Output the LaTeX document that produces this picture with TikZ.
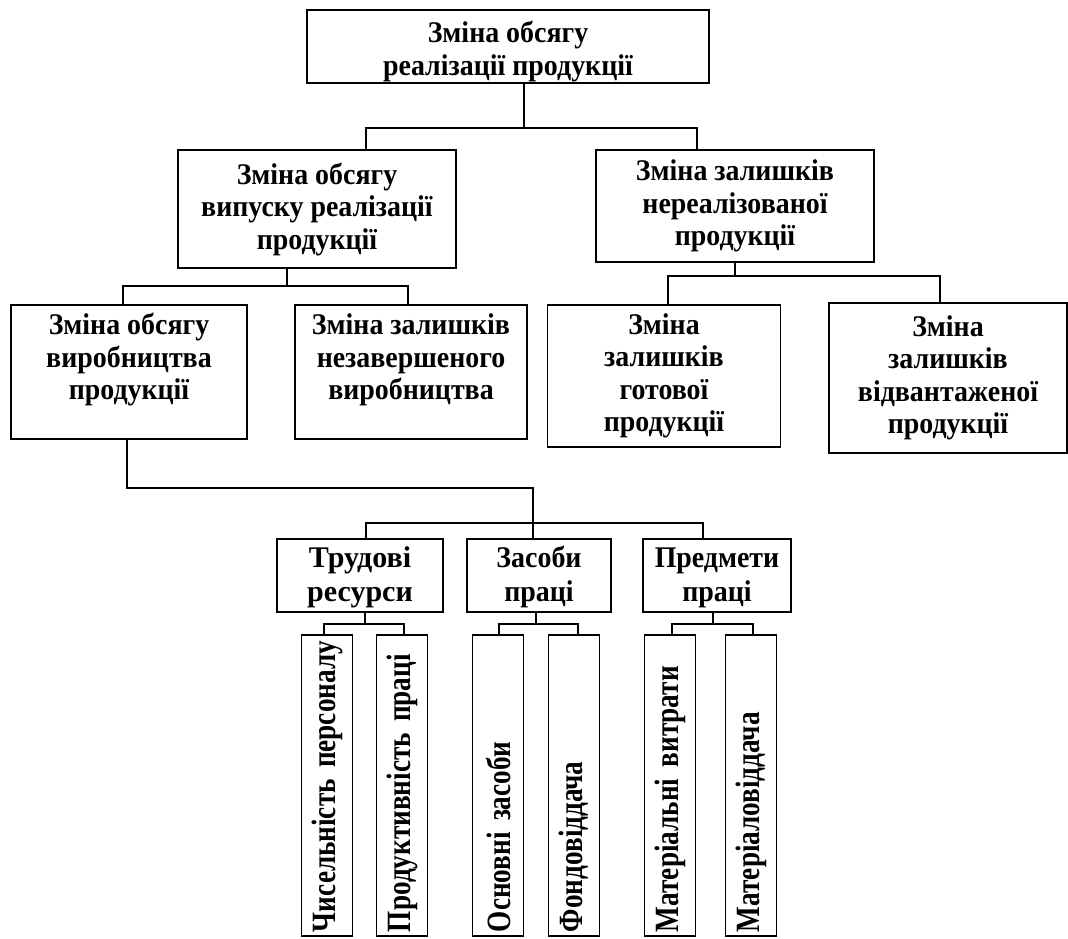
\documentclass[tikz,border=0pt]{standalone}
\usepackage{fontspec}
\setmainfont{Liberation Serif}
\newfontfamily\upserif[FakeStretch=0.93]{Liberation Serif}
\newfontfamily\narrowserif[FakeStretch=0.8]{Liberation Serif}
\newcommand{\toptext}[4]{\parbox[c][#1][t]{#2}{\vspace*{#3}\centering\strut #4}}
\begin{document}
\begin{tikzpicture}[x=1pt,y=-1pt,
  box/.style={draw, line width=1.9pt, inner sep=0pt, align=center, font=\upserif\fontsize{30}{32.5}\selectfont\bfseries},
  sbox/.style={draw, line width=1.9pt, inner sep=0pt, align=center, font=\upserif\fontsize{30}{34}\selectfont\bfseries},
  vt/.style={draw, line width=1.9pt, rotate=90, inner sep=0pt, font=\narrowserif\fontsize{34}{36}\selectfont\bfseries,
    minimum width=301pt, minimum height=51pt, text width=293pt, align=left},
  conn/.style={line width=1.6pt}]
\useasboundingbox (0,0) rectangle (1068,938);
% level 1
\node[box, minimum width=402pt, minimum height=73pt] (top) at (508,46.5)
  {\toptext{73pt}{396pt}{10pt}{Зміна обсягу\\реалізації продукції}};
% level 2
\node[box, minimum width=278pt, minimum height=118pt] (l2a) at (317,209) {Зміна обсягу\\випуску реалізації\\продукції};
\node[box, minimum width=278pt, minimum height=112pt] (l2b) at (735,206) {Зміна залишків\\нереалізованої\\продукції};
% level 3
\node[box, minimum width=236pt, minimum height=134pt] (l3a) at (129,372)
  {\toptext{134pt}{230pt}{7pt}{Зміна обсягу\\виробництва\\продукції}};
\node[box, minimum width=232pt, minimum height=134pt] (l3b) at (411,372)
  {\toptext{134pt}{226pt}{7pt}{Зміна залишків\\незавершеного\\виробництва}};
\node[box, minimum width=233pt, minimum height=142pt] (l3c) at (664,376) {Зміна\\залишків\\готової\\продукції};
\node[box, minimum width=238pt, minimum height=150pt] (l3d) at (948,378) {Зміна\\залишків\\відвантаженої\\продукції};
% level 4
\node[sbox, minimum width=166pt, minimum height=73pt] (l4a) at (360,575.5)
  {\toptext{73pt}{160pt}{5pt}{\rmfamily\bfseries Трудові\\ресурси}};
\node[sbox, minimum width=144pt, minimum height=73pt] (l4b) at (539,575.5)
  {\toptext{73pt}{140pt}{5pt}{Засоби\\праці}};
\node[sbox, minimum width=148pt, minimum height=73pt] (l4c) at (717,575.5)
  {\toptext{73pt}{144pt}{5pt}{Предмети\\праці}};
% level 5
\node[vt] (a1) at (327,785.5) {Чисельність персоналу};
\node[vt] (a2) at (402,785.5) {Продуктивність праці};
\node[vt] (b1) at (498,785.5) {Основні засоби};
\node[vt] (b2) at (574,785.5) {Фондовіддача};
\node[vt] (c1) at (670,785.5) {Матеріальні витрати};
\node[vt] (c2) at (751,785.5) {Матеріаловіддача};
% connectors
\coordinate (j1) at (524,128);
\draw[conn] (top.south -| j1) -- (j1);
\draw[conn] (l2a.north -| 366,0) -- (366,128) -- (697,128) -- (l2b.north -| 697,0);
\coordinate (j2) at (287,286);
\draw[conn] (l2a.south -| j2) -- (j2);
\draw[conn] (l3a.north -| 123,0) -- (123,286) -- (408,286) -- (l3b.north -| 408,0);
\coordinate (j3) at (735,276);
\draw[conn] (l2b.south -| j3) -- (j3);
\draw[conn] (l3c.north -| 668,0) -- (668,276) -- (940,276) -- (l3d.north -| 940,0);
\coordinate (j4) at (533,488);
\draw[conn] (l3a.south -| 127,0) -- (127,488) -- (j4) -- (l4b.north -| j4);
\draw[conn] (l4a.north -| 366,0) -- (366,523) -- (703,523) -- (l4c.north -| 703,0);
% level 4 to 5
\draw[conn] (l4a.south -| 365,0) -- (365,624);
\draw[conn] (a1.east -| 324,0) -- (324,624) -- (404,624) -- (a2.east -| 404,0);
\draw[conn] (l4b.south -| 536,0) -- (536,624);
\draw[conn] (b1.east -| 499,0) -- (499,624) -- (578,624) -- (b2.east -| 578,0);
\draw[conn] (l4c.south -| 713,0) -- (713,624);
\draw[conn] (c1.east -| 672,0) -- (672,624) -- (753,624) -- (c2.east -| 753,0);
\end{tikzpicture}
\end{document}
